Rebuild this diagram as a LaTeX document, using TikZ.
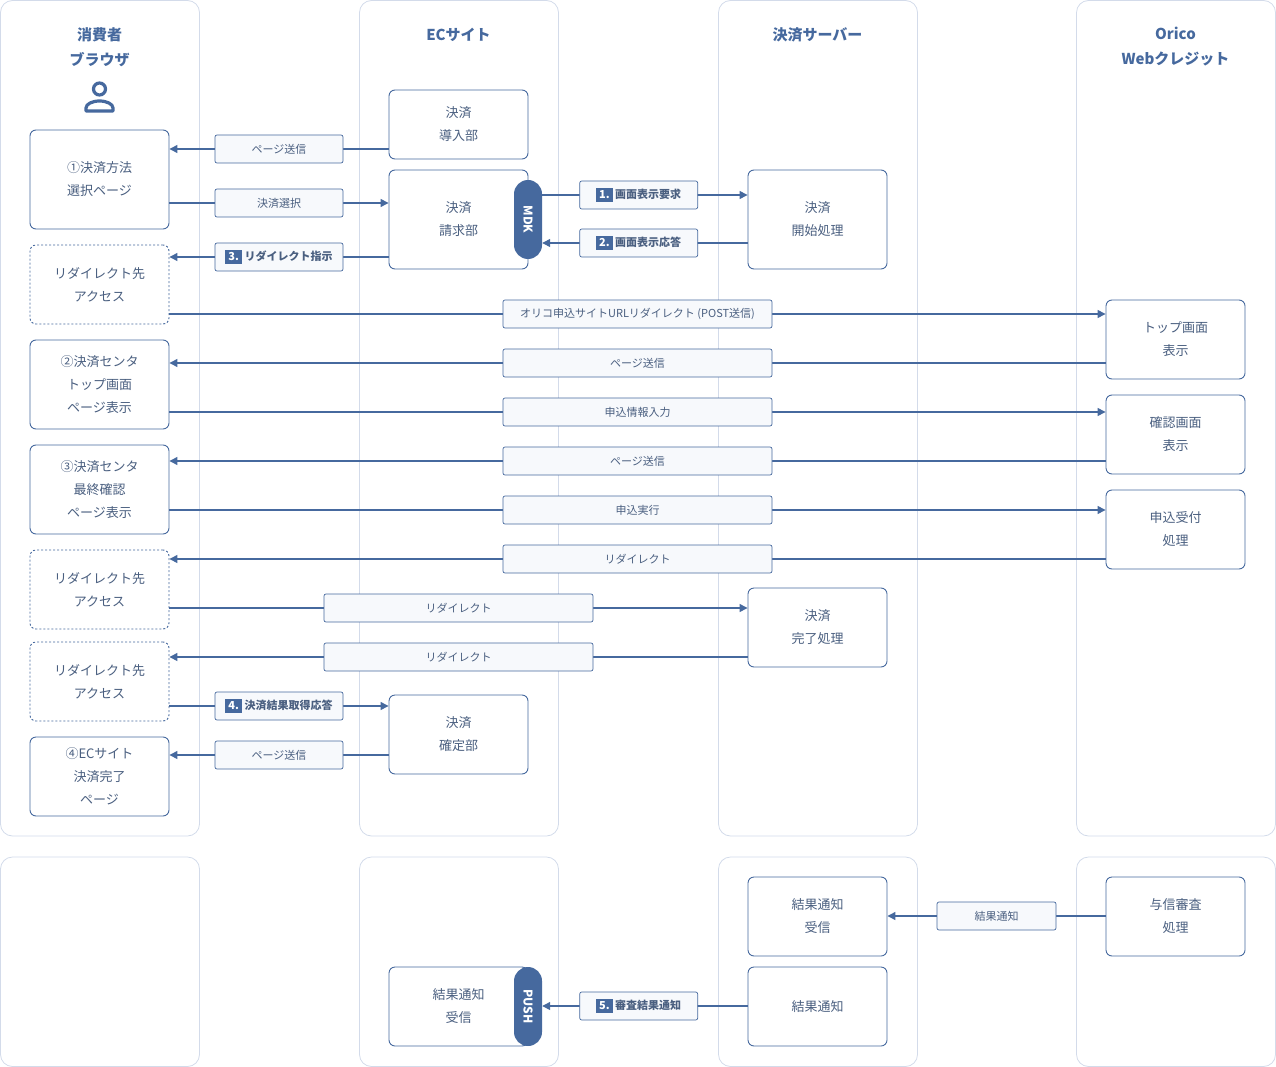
\documentclass[tikz,border=0pt]{standalone}
\usepackage{fontspec}
\setmainfont{Noto Sans CJK JP}
\usetikzlibrary{arrows.meta}
\definecolor{ink}{HTML}{46699E}
\definecolor{txt}{HTML}{4A5F80}
\definecolor{lane}{HTML}{D3DBEA}
\definecolor{tag}{HTML}{F7F9FC}
\newcommand{\stepno}[1]{{\setlength{\fboxsep}{3pt}\colorbox{ink}{\textcolor{white}{\bfseries #1}}}}
\tikzset{
  swim/.style={draw=lane,rounded corners=12pt,line width=0.8pt},
  box/.style={draw=ink,rounded corners=6pt,line width=0.9pt,fill=white,minimum width=139pt,align=center,text=txt,font=\fontsize{13}{23}\selectfont,inner sep=0pt},
  redir/.style={box,dashed,dash pattern=on 2pt off 2pt},
  tag/.style={draw=ink,fill=tag,rounded corners=2pt,line width=0.7pt,minimum height=28pt,inner sep=2pt,text=txt,font=\fontsize{11}{13}\selectfont},
  flow/.style={draw=ink,line width=1.3pt,-{Triangle[length=8pt,width=8pt]}},
  pill/.style={fill=ink,rounded corners=14pt,minimum width=28pt,inner sep=0pt,text=white,font=\bfseries\fontsize{12}{14}\selectfont},
  head/.style={text=ink,font=\bfseries\fontsize{15}{25}\selectfont,align=center}
}
\begin{document}
\begin{tikzpicture}[x=1pt,y=-1pt]
\useasboundingbox (0,0) rectangle (1276,1067);
% lanes
\foreach \x in {0,359,718,1076} {
  \draw[swim] (\x+0.5,0.5) rectangle (\x+199.5,836);
  \draw[swim] (\x+0.5,857) rectangle (\x+199.5,1066.5);
}
\node[head] (h1) at (99.5,47) {消費者\\ブラウザ};
\node[head] (h2) at (458.5,35) {ECサイト};
\node[head] (h3) at (817.5,35) {決済サーバー};
\node[head] (h4) at (1175.5,47) {Orico\\Webクレジット};
% user icon
\draw[ink,line width=3.2pt] (99.5,89) circle (6);
\draw[ink,line width=3.2pt,line join=round] (86,111) -- (86,108) arc[start angle=180,end angle=0,x radius=13.5,y radius=-7] -- (113,111) -- cycle;
% consumer browser
\node[box,minimum height=99pt] (sel) at (99.5,179.5) {①決済方法\\選択ページ};
\node[redir,minimum height=79pt] (acc1) at (99.5,284.5) {リダイレクト先\\アクセス};
\node[box,minimum height=89pt] (top) at (99.5,384.5) {②決済センタ\\トップ画面\\ページ表示};
\node[box,minimum height=89pt] (fin) at (99.5,489.5) {③決済センタ\\最終確認\\ページ表示};
\node[redir,minimum height=79pt] (acc2) at (99.5,589.5) {リダイレクト先\\アクセス};
\node[redir,minimum height=79pt] (acc3) at (99.5,681.5) {リダイレクト先\\アクセス};
\node[box,minimum height=79pt] (done) at (99.5,776.5) {④ECサイト\\決済完了\\ページ};
% EC site
\node[box,minimum height=69pt] (intro) at (458.5,124.5) {決済\\導入部};
\node[box,minimum height=99pt] (bill) at (458.5,219.5) {決済\\請求部};
\node[box,minimum height=79pt] (fix) at (458.5,734.5) {決済\\確定部};
\node[box,minimum height=79pt] (recv) at (458.5,1006.5) {結果通知\\受信};
\node[pill,minimum height=79pt] (mdk) at (528,219.5) {\rotatebox{-90}{MDK}};
\node[pill,minimum height=79pt] (push) at (528,1006.5) {\rotatebox{-90}{PUSH}};
% payment server
\node[box,minimum height=99pt] (start) at (817.5,219.5) {決済\\開始処理};
\node[box,minimum height=79pt] (comp) at (817.5,627.5) {決済\\完了処理};
\node[box,minimum height=79pt] (srecv) at (817.5,916.5) {結果通知\\受信};
\node[box,minimum height=79pt] (notify) at (817.5,1006.5) {結果通知};
% Orico
\node[box,minimum height=79pt] (otop) at (1175.5,339.5) {トップ画面\\表示};
\node[box,minimum height=79pt] (conf) at (1175.5,434.5) {確認画面\\表示};
\node[box,minimum height=79pt] (apply) at (1175.5,529.5) {申込受付\\処理};
\node[box,minimum height=79pt] (credit) at (1175.5,916.5) {与信審査\\処理};
% connectors
\draw[flow] (intro.west|-0,149) -- node[tag,minimum width=128pt] {ページ送信} (sel.east|-0,149);
\draw[flow] (sel.east|-0,203) -- node[tag,minimum width=128pt] {決済選択} (bill.west|-0,203);
\draw[flow] (bill.west|-0,257) -- node[tag,minimum width=128pt] {\stepno{3.} \bfseries リダイレクト指示} (acc1.east|-0,257);
\draw[flow] (mdk.east|-0,195) -- node[tag,minimum width=118pt,pos=0.47] {\stepno{1.} \bfseries 画面表示要求} (start.west|-0,195);
\draw[flow] (start.west|-0,243) -- node[tag,minimum width=118pt,pos=0.53] {\stepno{2.} \bfseries 画面表示応答} (mdk.east|-0,243);
\draw[flow] (acc1.east|-0,314) -- node[tag,minimum width=269pt] {オリコ申込サイトURLリダイレクト (POST送信)} (otop.west|-0,314);
\draw[flow] (otop.west|-0,363) -- node[tag,minimum width=269pt] {ページ送信} (top.east|-0,363);
\draw[flow] (top.east|-0,412) -- node[tag,minimum width=269pt] {申込情報入力} (conf.west|-0,412);
\draw[flow] (conf.west|-0,461) -- node[tag,minimum width=269pt] {ページ送信} (fin.east|-0,461);
\draw[flow] (fin.east|-0,510) -- node[tag,minimum width=269pt] {申込実行} (apply.west|-0,510);
\draw[flow] (apply.west|-0,559) -- node[tag,minimum width=269pt] {リダイレクト} (acc2.east|-0,559);
\draw[flow] (acc2.east|-0,608) -- node[tag,minimum width=269pt] {リダイレクト} (comp.west|-0,608);
\draw[flow] (comp.west|-0,657) -- node[tag,minimum width=269pt] {リダイレクト} (acc3.east|-0,657);
\draw[flow] (acc3.east|-0,706) -- node[tag,minimum width=128pt] {\stepno{4.} \bfseries 決済結果取得応答} (fix.west|-0,706);
\draw[flow] (fix.west|-0,755) -- node[tag,minimum width=128pt] {ページ送信} (done.east|-0,755);
\draw[flow] (credit.west|-0,916) -- node[tag,minimum width=119pt] {結果通知} (srecv.east|-0,916);
\draw[flow] (notify.west|-0,1006) -- node[tag,minimum width=118pt,pos=0.53] {\stepno{5.} \bfseries 審査結果通知} (push.east|-0,1006);
\end{tikzpicture}
\end{document}
